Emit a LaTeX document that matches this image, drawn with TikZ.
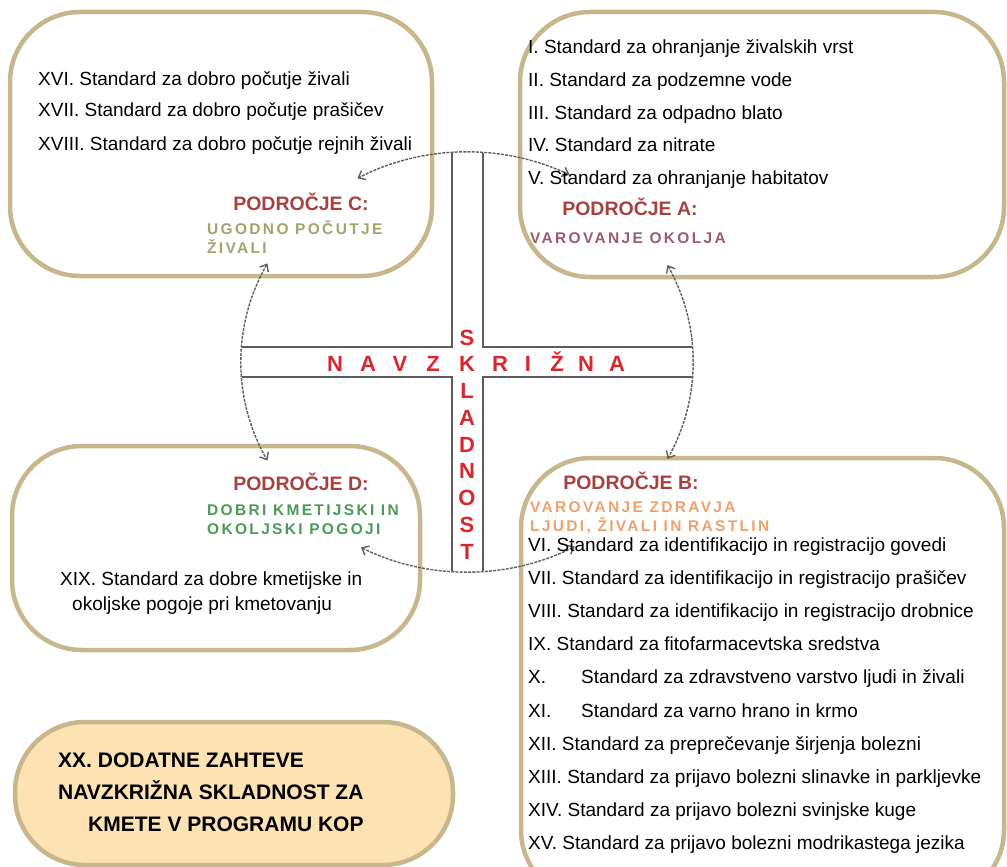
\documentclass[tikz,border=0pt]{standalone}
\usepackage{fontspec}
\setmainfont{Liberation Sans}
\newfontfamily\widefont[LetterSpace=15]{Liberation Sans}
\usetikzlibrary{arrows.meta,calc}
\definecolor{gold}{HTML}{C6B78C}
\definecolor{xxfill}{HTML}{FDE3B4}
\definecolor{areared}{HTML}{A8403F}
\definecolor{subC}{HTML}{A3A46B}
\definecolor{subA}{HTML}{9C5C6C}
\definecolor{subD}{HTML}{4C9A58}
\definecolor{subB}{HTML}{EDA26E}
\definecolor{crossred}{HTML}{D8282E}
\definecolor{crossgray}{HTML}{5C5C5C}
\definecolor{arcgray}{HTML}{5F5F5F}
\begin{document}
\begin{tikzpicture}[x=1pt,y=-1pt,
  box/.style={draw=gold, line width=4.5pt, rounded corners=70pt},
  std/.style={anchor=base west, inner sep=0pt, font=\fontsize{19}{19}\selectfont, text=black},
  bold/.style={anchor=base west, inner sep=0pt, font=\fontsize{21}{21}\selectfont\bfseries, text=black},
  area/.style={anchor=base, inner sep=0pt, font=\fontsize{19.5}{19.5}\selectfont\bfseries, text=areared},
  sub/.style={anchor=base west, inner sep=0pt, font=\widefont\bfseries\fontsize{15.5}{15.5}\selectfont},
  crossline/.style={draw=crossgray, line width=2pt},
  letter/.style={anchor=base, inner sep=0pt, font=\fontsize{22}{22}\selectfont\bfseries, text=crossred},
  arcline/.style={draw=arcgray, line width=1.4pt, dash pattern=on 3pt off 1.2pt,
     {Straight Barb[length=6pt,width=10pt]}-{Straight Barb[length=6pt,width=10pt]}}
]
\useasboundingbox (0,0) rectangle (1007,867);

% boxes
\draw[box] (10,12) rectangle (432,276);
\draw[box] (520,12) rectangle (1004,277);
\draw[box] (12,446) rectangle (420,650);
\draw[box] (521,458) rectangle (1004,900);
\draw[box, fill=xxfill] (15,722) rectangle (453,865);

% cross
\coordinate (O) at (467,362);
\draw[crossline] (452,153) -- (452,347) -- (242,347);
\draw[crossline] (242,377) -- (452,377) -- (452,571);
\draw[crossline] (483,153) -- (483,347) -- (692,347);
\draw[crossline] (692,377) -- (483,377) -- (483,571);

% arcs
\coordinate (tr) at ($(O)+(-63:226 and 210)$);
\coordinate (rt) at ($(O)+(-27.5:226 and 210)$);
\coordinate (lt) at ($(O)+(-152:226 and 210)$);
\coordinate (bl) at ($(O)+(118:226 and 210)$);
\draw[arcline] (tr) arc[start angle=-63, end angle=-119, x radius=226, y radius=210];
\draw[arcline] (rt) arc[start angle=-27.5, end angle=27.5, x radius=226, y radius=210];
\draw[arcline] (lt) arc[start angle=-152, end angle=-208, x radius=226, y radius=210];
\draw[arcline] (bl) arc[start angle=118, end angle=61.5, x radius=226, y radius=210];

% cross letters
\foreach \ch/\xx [count=\i] in {N/335,A/368,V/400,Z/433,R/500,I/528,Ž/557,N/586,A/617}
  \node[letter] (h\i) at (\xx,371) {\ch};
\foreach \ch [count=\i from 0] in {S,K,L,A,D,N,O,S,T}
  \node[letter] (v\i) at (467,{345+26.75*\i}) {\ch};

% area labels
\node[area] (pc) at (301,210) {PODROČJE C:};
\node[sub, text=subC] (pc1) at (207,234) {UGODNO POČUTJE};
\node[sub, text=subC] (pc2) at (207,253) {ŽIVALI};
\node[area] (pa) at (630,215) {PODROČJE A:};
\node[sub, text=subA] (pa1) at (530,243) {VAROVANJE OKOLJA};
\node[area] (pd) at (301,490) {PODROČJE D:};
\node[sub, text=subD] (pd1) at (207,515) {DOBRI KMETIJSKI IN};
\node[sub, text=subD] (pd2) at (207,534) {OKOLJSKI POGOJI};
\node[area] (pb) at (631,489) {PODROČJE B:};
\node[sub, text=subB] (pb1) at (530,512) {VAROVANJE ZDRAVJA};
\node[sub, text=subB] (pb2) at (530,531) {LJUDI, ŽIVALI IN RASTLIN};

% box C texts
\node[std] (c1) at (38,85) {XVI. Standard za dobro počutje živali};
\node[std] (c2) at (38,117) {XVII. Standard za dobro počutje prašičev};
\node[std] (c3) at (38,150) {XVIII. Standard za dobro počutje rejnih živali};

% box A texts
\node[std] (a1) at (528,54) {I. Standard za ohranjanje živalskih vrst};
\node[std] (a2) at (528,87) {II. Standard za podzemne vode};
\node[std] (a3) at (528,119) {III. Standard za odpadno blato};
\node[std] (a4) at (528,151) {IV. Standard za nitrate};
\node[std] (a5) at (528,184) {V. Standard za ohranjanje habitatov};

% box B texts
\node[std] (b1) at (528,551) {VI. Standard za identifikacijo in registracijo govedi};
\node[std] (b2) at (528,584) {VII. Standard za identifikacijo in registracijo prašičev};
\node[std] (b3) at (528,617) {VIII. Standard za identifikacijo in registracijo drobnice};
\node[std] (b4) at (528,650) {IX. Standard za fitofarmacevtska sredstva};
\node[std] (b5) at (528,683) {\makebox[53pt][l]{X.}Standard za zdravstveno varstvo ljudi in živali};
\node[std] (b6) at (528,717) {\makebox[53pt][l]{XI.}Standard za varno hrano in krmo};
\node[std] (b7) at (528,750) {XII. Standard za preprečevanje širjenja bolezni};
\node[std] (b8) at (528,783) {XIII. Standard za prijavo bolezni slinavke in parkljevke};
\node[std] (b9) at (528,816) {XIV. Standard za prijavo bolezni svinjske kuge};
\node[std] (b10) at (528,849) {XV. Standard za prijavo bolezni modrikastega jezika};

% box D texts
\node[std] (d1) at (60,585) {XIX. Standard za dobre kmetijske in};
\node[std] (d2) at (72,610) {okoljske pogoje pri kmetovanju};

% box XX texts
\node[bold] (x1) at (58,767) {XX. DODATNE ZAHTEVE};
\node[bold] (x2) at (58,799) {NAVZKRIŽNA SKLADNOST ZA};
\node[bold] (x3) at (88,831) {KMETE V PROGRAMU KOP};
\end{tikzpicture}
\end{document}
